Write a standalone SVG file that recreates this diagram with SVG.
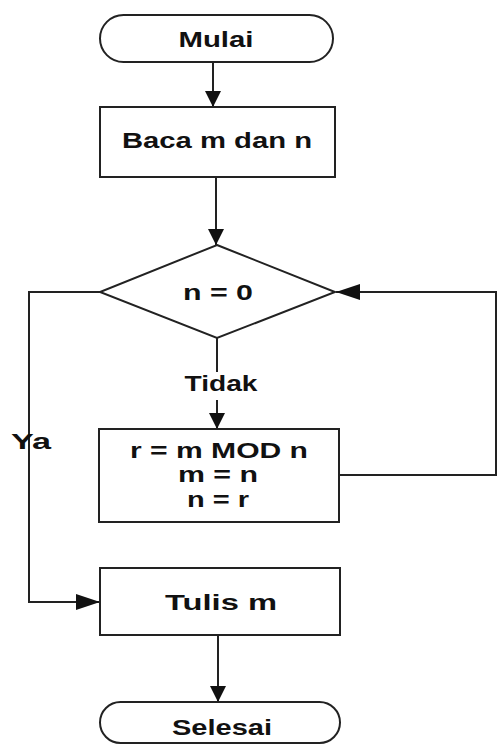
<svg xmlns="http://www.w3.org/2000/svg" width="498" height="744" viewBox="0 0 498 744">
<style>
.s{fill:#fff;stroke:#222;stroke-width:2}
.t{font-family:"Liberation Sans",Arial,sans-serif;font-weight:bold;font-size:22px;fill:#111;text-anchor:middle}
.c{fill:none;stroke:#222;stroke-width:2}
</style>
<defs>
<marker id="ahb" viewBox="0 0 16 16" refX="16" refY="8" markerWidth="16" markerHeight="16" markerUnits="userSpaceOnUse" orient="auto">
<path d="M0,0 L16,8 L0,16 Z" fill="#111"/>
</marker>
<marker id="ahl" viewBox="0 0 24 16" refX="24" refY="8" markerWidth="24" markerHeight="16" markerUnits="userSpaceOnUse" orient="auto">
<path d="M0,0 L24,8 L0,16 Z" fill="#111"/>
</marker>
</defs>
<g id="connectors">
<line class="c" x1="213" y1="62" x2="213" y2="107" marker-end="url(#ahb)"/>
<line class="c" x1="216" y1="177" x2="216" y2="245" marker-end="url(#ahb)"/>
<line class="c" x1="217" y1="338" x2="217" y2="372"/>
<line class="c" x1="217" y1="400" x2="217" y2="429" marker-end="url(#ahb)"/>
<polyline class="c" points="100,292 29,292 29,602 100,602" marker-end="url(#ahl)"/>
<polyline class="c" points="339,475 496,475 496,292 336,292" marker-end="url(#ahl)"/>
<line class="c" x1="218" y1="636" x2="218" y2="702" marker-end="url(#ahb)"/>
<text class="t" x="31" y="449" textLength="40" lengthAdjust="spacingAndGlyphs">Ya</text>
<text class="t" x="221" y="391" textLength="73" lengthAdjust="spacingAndGlyphs">Tidak</text>
</g>
<g id="mulai">
<rect class="s" x="100" y="15" width="233" height="47" rx="23.5" ry="23.5"/>
<text class="t" x="216" y="47" textLength="75" lengthAdjust="spacingAndGlyphs">Mulai</text>
</g>
<g id="baca">
<rect class="s" x="100" y="107" width="235" height="70"/>
<text class="t" x="217" y="148" textLength="190" lengthAdjust="spacingAndGlyphs">Baca m dan n</text>
</g>
<g id="kondisi">
<polygon class="s" points="217,245 335,292 217,338 100,292"/>
<text class="t" x="218" y="300" textLength="70" lengthAdjust="spacingAndGlyphs">n = 0</text>
</g>
<g id="proses">
<rect class="s" x="99" y="429" width="240" height="93"/>
<text class="t" x="219" y="458" textLength="178" lengthAdjust="spacingAndGlyphs">r = m MOD n</text>
<text class="t" x="218" y="482" textLength="80" lengthAdjust="spacingAndGlyphs">m = n</text>
<text class="t" x="218" y="507" textLength="62" lengthAdjust="spacingAndGlyphs">n = r</text>
</g>
<g id="tulis">
<rect class="s" x="100" y="568" width="240" height="67"/>
<text class="t" x="221" y="610" textLength="112" lengthAdjust="spacingAndGlyphs">Tulis  m</text>
</g>
<g id="selesai">
<rect class="s" x="100" y="702" width="240" height="41" rx="20.5" ry="20.5"/>
<text class="t" x="222" y="735" textLength="100" lengthAdjust="spacingAndGlyphs">Selesai</text>
</g>
</svg>
